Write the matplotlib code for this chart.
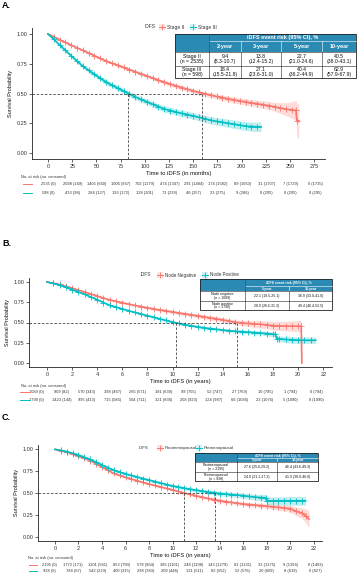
import numpy as np
import matplotlib
matplotlib.use("Agg")
import matplotlib.pyplot as plt
from matplotlib.patches import Rectangle

plt.rcParams['font.family'] = ['Liberation Sans', 'DejaVu Sans']

RED = "#F8766D"
CYAN = "#00BFC4"
HEAD = "#2A8AB4"
W, H = 359, 575

# ---------------- data ----------------
# Panel A (months)
A_groups = ["Stage II", "Stage III"]
A_ticks = [0, 25, 50, 75, 100, 125, 150, 175, 200, 225, 250, 275]
A_t_II = [0, 6, 12, 18, 24, 30, 36, 42, 48, 54, 60, 66, 72, 78, 84, 90, 96, 102, 108, 114,
          120, 126, 132, 138, 144, 150, 156, 162, 168, 174, 180, 186, 192, 198, 204, 210, 216,
          222, 228, 234, 240, 246, 252, 256, 257, 259]
A_s_II = [1.000, 0.977, 0.952, 0.929, 0.906, 0.884, 0.862, 0.840, 0.817, 0.795,
          0.773, 0.755, 0.737, 0.719, 0.701, 0.683, 0.665, 0.648, 0.630, 0.612,
          0.595, 0.580, 0.565, 0.550, 0.536, 0.522, 0.509, 0.497, 0.486, 0.475,
          0.465, 0.455, 0.446, 0.437, 0.429, 0.421, 0.414, 0.406, 0.398, 0.388,
          0.378, 0.368, 0.362, 0.358, 0.272, 0.270]
A_ci_II = [0.000, 0.004, 0.006, 0.007, 0.008, 0.008, 0.009, 0.009, 0.010, 0.010,
           0.011, 0.011, 0.012, 0.012, 0.013, 0.013, 0.014, 0.014, 0.015, 0.015,
           0.016, 0.016, 0.017, 0.017, 0.018, 0.018, 0.019, 0.020, 0.021, 0.022,
           0.023, 0.024, 0.025, 0.026, 0.027, 0.028, 0.030, 0.032, 0.034, 0.038,
           0.045, 0.055, 0.070, 0.085, 0.140, 0.145]
A_t_III = [0, 6, 12, 18, 24, 30, 36, 42, 48, 54, 60, 66, 72, 78, 84, 90, 96, 102, 108, 114,
           120, 126, 132, 138, 144, 150, 156, 162, 168, 174, 180, 186, 192, 198, 204, 210,
           216, 220]
A_s_III = [1.000, 0.955, 0.908, 0.862, 0.816, 0.772, 0.729, 0.694, 0.660, 0.628,
           0.596, 0.570, 0.545, 0.520, 0.496, 0.472, 0.450, 0.430, 0.410, 0.390,
           0.371, 0.357, 0.345, 0.333, 0.323, 0.312, 0.300, 0.288, 0.275, 0.266,
           0.258, 0.250, 0.242, 0.234, 0.226, 0.222, 0.220, 0.220]
A_ci_III = [0.000, 0.008, 0.011, 0.013, 0.015, 0.016, 0.017, 0.018, 0.019, 0.020,
            0.021, 0.021, 0.022, 0.022, 0.023, 0.023, 0.024, 0.024, 0.025, 0.025,
            0.026, 0.026, 0.027, 0.027, 0.028, 0.028, 0.029, 0.030, 0.031, 0.032,
            0.033, 0.034, 0.035, 0.036, 0.037, 0.038, 0.040, 0.040]
A_medians = [159.0, 82.6]
A_risk_II = ["2535 (0)", "2098 (169)", "1405 (660)", "1006 (967)", "702 (1179)", "474 (1347)",
             "291 (1484)", "174 (1582)", "89 (1650)", "31 (1707)", "7 (1729)", "0 (1735)"]
A_risk_III = ["598 (0)", "433 (98)", "284 (127)", "193 (172)", "128 (201)", "72 (239)",
              "46 (257)", "23 (275)", "9 (286)", "0 (295)", "0 (295)", "0 (295)"]
A_tab_cols = ["2-year", "3-year", "5-year", "10-year"]
A_tab_rows = [["Stage II\n(n = 2535)", "9.4\n(8.3-10.7)", "13.8\n(12.4-15.2)", "22.7\n(21.0-24.6)", "40.5\n(38.0-43.1)"],
              ["Stage III\n(n = 598)", "18.4\n(15.5-21.8)", "27.1\n(23.6-31.0)", "40.4\n(36.2-44.9)", "62.9\n(57.9-67.9)"]]

# Panel B (years)
B_groups = ["Node Negative", "Node Positive"]
B_ticks = [0, 2, 4, 6, 8, 10, 12, 14, 16, 18, 20, 22]
B_t_neg = [0, 0.5, 1, 1.5, 2, 2.5, 3, 3.5, 4, 4.5, 5, 5.5, 6, 6.5, 7, 7.5, 8, 8.5, 9, 9.5,
           10, 10.5, 11, 11.5, 12, 12.5, 13, 13.5, 14, 14.5, 15, 15.5, 16, 16.5, 17, 17.5,
           18, 18.5, 19, 19.5, 20, 20.25, 20.3]
B_s_neg = [1.000, 0.987, 0.970, 0.948, 0.925, 0.901, 0.877, 0.852, 0.828, 0.803,
           0.779, 0.762, 0.745, 0.728, 0.712, 0.697, 0.682, 0.668, 0.655, 0.643,
           0.631, 0.618, 0.606, 0.594, 0.582, 0.570, 0.557, 0.545, 0.532, 0.518,
           0.503, 0.495, 0.488, 0.483, 0.478, 0.470, 0.462, 0.458, 0.455, 0.455,
           0.455, 0.455, 0.000]
B_ci_neg = [0.000, 0.004, 0.006, 0.007, 0.008, 0.009, 0.010, 0.011, 0.011, 0.012,
            0.013, 0.013, 0.014, 0.015, 0.015, 0.016, 0.017, 0.017, 0.018, 0.019,
            0.020, 0.021, 0.022, 0.023, 0.024, 0.025, 0.026, 0.027, 0.028, 0.029,
            0.030, 0.033, 0.036, 0.040, 0.044, 0.048, 0.052, 0.056, 0.060, 0.065,
            0.070, 0.070, 0.000]
B_t_pos = [0, 0.5, 1, 1.5, 2, 2.5, 3, 3.5, 4, 4.5, 5, 5.5, 6, 6.5, 7, 7.5, 8, 8.5, 9, 9.5,
           10, 10.5, 11, 11.5, 12, 12.5, 13, 13.5, 14, 14.5, 15, 15.5, 16, 16.5, 17, 17.5,
           18, 18.2, 18.3, 18.5, 19, 19.5, 20, 20.5, 21, 21.4]
B_s_pos = [1.000, 0.983, 0.962, 0.935, 0.905, 0.877, 0.848, 0.815, 0.782, 0.747,
           0.711, 0.690, 0.668, 0.646, 0.625, 0.605, 0.585, 0.565, 0.545, 0.525,
           0.506, 0.489, 0.472, 0.459, 0.446, 0.435, 0.425, 0.416, 0.407, 0.399,
           0.392, 0.386, 0.381, 0.375, 0.370, 0.363, 0.355,
           0.352, 0.300, 0.298, 0.290, 0.285, 0.282, 0.280, 0.280, 0.280]
B_ci_pos = [0.000, 0.004, 0.005, 0.006, 0.007, 0.008, 0.008, 0.009, 0.010, 0.010,
            0.011, 0.011, 0.011, 0.012, 0.012, 0.012, 0.013, 0.013, 0.013, 0.014,
            0.014, 0.015, 0.015, 0.016, 0.016, 0.017, 0.017, 0.018, 0.018, 0.019,
            0.020, 0.021, 0.022, 0.024, 0.026, 0.028, 0.030,
            0.032, 0.035, 0.036, 0.038, 0.040, 0.040, 0.040, 0.040, 0.040]
B_medians = [15.1, 10.3]
B_risk_neg = ["1089 (0)", "909 (82)", "570 (343)", "398 (467)", "265 (571)", "181 (639)",
              "99 (705)", "52 (747)", "27 (769)", "10 (785)", "1 (794)", "0 (794)"]
B_risk_pos = ["1790 (0)", "1423 (144)", "995 (413)", "715 (586)", "504 (711)", "321 (836)",
              "208 (923)", "124 (987)", "66 (1036)", "23 (1076)", "5 (1090)", "0 (1090)"]
B_tab_cols = ["5-year", "10-year"]
B_tab_rows = [["Node negative\n(n = 1089)", "22.1 (19.5-25.1)", "36.9 (33.0-41.0)"],
              ["Node positive\n(n = 1790)", "28.9 (26.6-31.3)", "49.4 (46.4-52.5)"]]

# Panel C (years)
C_groups = ["Postmenopausal", "Premenopausal"]
C_ticks = [0, 2, 4, 6, 8, 10, 12, 14, 16, 18, 20, 22]
C_t_post = [0, 0.5, 1, 1.5, 2, 2.5, 3, 3.5, 4, 4.5, 5, 5.5, 6, 6.5, 7, 7.5, 8, 8.5, 9, 9.5,
            10, 10.5, 11, 11.5, 12, 12.5, 13, 13.5, 14, 14.5, 15, 15.5, 16, 16.5, 17, 17.5,
            18, 18.5, 19, 19.5, 20, 20.5, 21, 21.3, 21.6]
C_s_post = [1.000, 0.985, 0.968, 0.945, 0.920, 0.896, 0.870, 0.834, 0.797, 0.760,
            0.724, 0.702, 0.680, 0.660, 0.640, 0.621, 0.603, 0.586, 0.569, 0.552,
            0.536, 0.518, 0.500, 0.484, 0.468, 0.453, 0.438, 0.425, 0.412, 0.402,
            0.392, 0.383, 0.375, 0.368, 0.362, 0.356, 0.350, 0.342, 0.335, 0.328,
            0.320, 0.290, 0.270, 0.240, 0.200]
C_ci_post = [0.000, 0.004, 0.005, 0.006, 0.007, 0.008, 0.008, 0.009, 0.009, 0.010,
             0.010, 0.011, 0.011, 0.011, 0.012, 0.012, 0.012, 0.013, 0.013, 0.013,
             0.014, 0.014, 0.015, 0.015, 0.016, 0.016, 0.017, 0.017, 0.018, 0.019,
             0.020, 0.021, 0.022, 0.023, 0.024, 0.026, 0.028, 0.030, 0.032, 0.035,
             0.040, 0.050, 0.060, 0.080, 0.100]
C_t_pre = [0, 0.5, 1, 1.5, 2, 2.5, 3, 3.5, 4, 4.5, 5, 5.5, 6, 6.5, 7, 7.5, 8, 8.5, 9, 9.5,
           10, 10.5, 11, 11.5, 12, 12.5, 13, 13.5, 14, 14.5, 15, 15.5, 16, 16.5, 17, 17.5,
           17.9, 18.0, 18.5, 19, 19.5, 20, 20.5, 21, 21.3]
C_s_pre = [1.000, 0.988, 0.975, 0.956, 0.935, 0.911, 0.885, 0.854, 0.822, 0.791,
           0.760, 0.740, 0.720, 0.701, 0.683, 0.665, 0.648, 0.631, 0.614, 0.597,
           0.581, 0.568, 0.555, 0.543, 0.532, 0.522, 0.512, 0.503, 0.494, 0.488,
           0.482, 0.476, 0.470, 0.461, 0.452, 0.448,
           0.445, 0.410, 0.410, 0.410, 0.410, 0.410, 0.410, 0.410, 0.410]
C_ci_pre = [0.000, 0.005, 0.006, 0.007, 0.008, 0.009, 0.010, 0.011, 0.012, 0.013,
            0.014, 0.014, 0.015, 0.015, 0.016, 0.016, 0.017, 0.017, 0.018, 0.018,
            0.019, 0.020, 0.020, 0.021, 0.022, 0.022, 0.023, 0.024, 0.025, 0.026,
            0.027, 0.028, 0.030, 0.032, 0.034, 0.036,
            0.038, 0.045, 0.046, 0.047, 0.048, 0.049, 0.050, 0.050, 0.050]
C_medians = [11.0, 13.6]
C_risk_post = ["2195 (0)", "1772 (171)", "1201 (561)", "853 (790)", "579 (964)", "385 (1101)",
               "248 (1198)", "143 (1279)", "81 (1331)", "33 (1375)", "9 (1396)", "0 (1403)"]
C_risk_pre = ["938 (0)", "784 (67)", "542 (229)", "400 (315)", "298 (383)", "209 (446)",
              "131 (511)", "82 (552)", "52 (576)", "20 (609)", "8 (619)", "0 (627)"]
C_tab_cols = ["5-year", "10-year"]
C_tab_rows = [["Postmenopausal\n(n = 2195)", "27.6 (25.6-29.2)", "46.4 (43.6-49.3)"],
              ["Premenopausal\n(n = 938)", "24.0 (21.1-27.2)", "41.9 (38.0-46.0)"]]

# ---------------- figure ----------------
fig = plt.figure(figsize=(W / 100, H / 100), dpi=100)
fig.patch.set_facecolor("white")
TXT = "#333333"


def px_axes(left, right, top, bottom, **kw):
    return fig.add_axes([left / W, 1 - bottom / H, (right - left) / W, (bottom - top) / H], **kw)


def km(ax, t, s, ci, color):
    t = np.asarray(t, float)
    s = np.asarray(s, float)
    ci = np.asarray(ci, float)
    ax.fill_between(t, s - ci, s + ci, color=color, alpha=0.25, lw=0)
    ax.plot(t, s, color=color, lw=1.2)
    ax.plot(t[1:-1], s[1:-1], ls='none', marker='+', ms=4.2, mew=0.6, color=color)


def style(ax, ticks, xlim, xlabel):
    ax.set_xlim(*xlim)
    ax.set_ylim(-0.05, 1.05)
    ax.set_xticks(ticks)
    ax.set_yticks([0, 0.25, 0.5, 0.75, 1.0])
    ax.set_yticklabels(["0.00", "0.25", "0.50", "0.75", "1.00"])
    for sp in ["top", "right"]:
        ax.spines[sp].set_visible(False)
    for sp in ["left", "bottom"]:
        ax.spines[sp].set_linewidth(0.6)
        ax.spines[sp].set_color("#222222")
    ax.tick_params(labelsize=4.0, length=2, width=0.5, pad=1.5, colors="#222222", labelcolor=TXT)
    ax.set_xlabel(xlabel, fontsize=4.2, labelpad=1.5, color="#111111")
    ax.set_ylabel("Survival Probability", fontsize=4.0, labelpad=2, color="#111111")
    ax.patch.set_alpha(0)


def medians(ax, meds):
    for m in meds:
        ax.plot([m, m], [-0.05, 0.5], ls=(0, (3, 2)), color="#444444", lw=0.6)
    ax.plot([ax.get_xlim()[0], max(meds)], [0.5, 0.5], ls=(0, (3, 2)), color="#444444", lw=0.6)


ov = fig.add_axes([0, 0, 1, 1], zorder=10)
ov.set_xlim(0, W)
ov.set_ylim(H, 0)
ov.axis("off")


def legend(xt, y, items, fs):
    ov.text(xt, y, "iDFS", fontsize=fs, ha="center", va="center", color=TXT)
    for xc, label, color in items:
        ov.add_patch(Rectangle((xc - 3, y - 3), 6, 6, fc=color, alpha=0.2, ec="none"))
        ov.plot([xc - 3.2, xc + 3.2], [y, y], color=color, lw=0.7)
        ov.plot([xc], [y], marker="|", ms=4.5, mew=0.6, color=color)
        ov.text(xc + 5, y, label, fontsize=fs, va="center", color=TXT)


def table(xs, ys, cols, rows, fs_h, fs_c):
    ov.add_patch(Rectangle((xs[0], ys[0]), xs[-1] - xs[0], ys[2] - ys[0], fc=HEAD, ec="none"))
    ov.text((xs[1] + xs[-1]) / 2, (ys[0] + ys[1]) / 2 + 0.3, "iDFS event risk (95% CI), %",
            fontsize=fs_h, color="white", fontweight="bold", ha="center", va="center")
    ov.plot([xs[1], xs[-1]], [ys[1], ys[1]], color="white", lw=0.4)
    for j, c in enumerate(cols):
        ov.text((xs[j + 1] + xs[j + 2]) / 2, (ys[1] + ys[2]) / 2 + 0.3, c, fontsize=fs_h,
                color="white", fontweight="bold", ha="center", va="center")
    for j in range(2, len(xs) - 1):
        ov.plot([xs[j], xs[j]], [ys[1], ys[2]], color="white", lw=0.4)
    ov.plot([xs[1], xs[1]], [ys[0], ys[2]], color="#1d5f7c", lw=0.5)
    for i, row in enumerate(rows):
        y0, y1 = ys[2 + i], ys[3 + i]
        ov.add_patch(Rectangle((xs[0], y0), xs[-1] - xs[0], y1 - y0, fc="white", ec="none"))
        for j, cell in enumerate(row):
            ov.text((xs[j] + xs[j + 1]) / 2, (y0 + y1) / 2 + 0.3, cell, fontsize=fs_c,
                    ha="center", va="center", color="#111111", linespacing=0.95)
    for y in ys[2:-1]:
        ov.plot([xs[0], xs[-1]], [y, y], color="#222222", lw=0.4)
    for x in xs[1:-1]:
        ov.plot([x, x], [ys[2], ys[-1]], color="#222222", lw=0.4)
    ov.add_patch(Rectangle((xs[0], ys[0]), xs[-1] - xs[0], ys[-1] - ys[0], fc="none",
                           ec="#222222", lw=0.6))


def risk(first, last, tick_max, ticks, yh, y1, y2, xl, xline, r1, r2):
    ra = px_axes(first, last, 0, H)
    ra.set_xlim(0, tick_max)
    ra.set_ylim(H, 0)
    ra.axis("off")
    ov.text(xl, yh, "No. at risk (no. censored)", fontsize=2.9, va="center", color=TXT)
    ov.plot(xline, [y1, y1], color=RED, lw=0.7)
    ov.plot(xline, [y2, y2], color=CYAN, lw=0.7)
    for tk, a, b in zip(ticks, r1, r2):
        ra.text(tk, y1, a, fontsize=2.9, ha="center", va="center", color=TXT)
        ra.text(tk, y2, b, fontsize=2.9, ha="center", va="center", color=TXT)


# ---- Panel A ----
axA = px_axes(32, 325, 28, 159)
km(axA, A_t_II, A_s_II, A_ci_II, RED)
km(axA, A_t_III, A_s_III, A_ci_III, CYAN)
style(axA, A_ticks, (-16.5, 286), "Time to iDFS (in months)")
medians(axA, A_medians)
fig.text(2 / W, 1 - 6 / H, "A.", fontsize=6.5, fontweight="bold", va="center")
legend(150, 27, [(162, A_groups[0], RED), (193, A_groups[1], CYAN)], 3.6)
table([175, 209, 241, 281, 322, 356], [34.3, 40.7, 52, 65.5, 78.3], A_tab_cols, A_tab_rows, 4.0, 3.7)
risk(48, 315, 275, A_ticks, 177, 184, 193, 21, [23, 32], A_risk_II, A_risk_III)

# ---- Panel B ----
axB = px_axes(29, 332, 278, 367)
km(axB, B_t_neg, B_s_neg, B_ci_neg, RED)
km(axB, B_t_pos, B_s_pos, B_ci_pos, CYAN)
style(axB, B_ticks, (-1.43, 22.7), "Time to iDFS (in years)")
medians(axB, B_medians)
fig.text(2 / W, 1 - 243 / H, "B.", fontsize=6.5, fontweight="bold", va="center")
legend(146, 275, [(160, B_groups[0], RED), (205, B_groups[1], CYAN)], 3.3)
table([200, 245, 289, 332], [279, 286, 291, 300.5, 310], B_tab_cols, B_tab_rows, 2.5, 2.5)
risk(36, 316, 22, B_ticks, 386, 392, 400, 21, [20, 30], B_risk_neg, B_risk_pos)

# ---- Panel C ----
axC = px_axes(38, 322, 445, 541)
km(axC, C_t_post, C_s_post, C_ci_post, RED)
km(axC, C_t_pre, C_s_pre, C_ci_pre, CYAN)
style(axC, C_ticks, (-1.44, 22.7), "Time to iDFS (in years)")
medians(axC, C_medians)
fig.text(2 / W, 1 - 417 / H, "C.", fontsize=6.5, fontweight="bold", va="center")
legend(144, 448, [(160, C_groups[0], RED), (199, C_groups[1], CYAN)], 3.2)
table([195, 237, 277, 318], [453, 457.5, 462, 472, 481], C_tab_cols, C_tab_rows, 2.5, 2.5)
risk(49, 315, 22, C_ticks, 558, 565, 571, 28, [29, 37], C_risk_post, C_risk_pre)

fig.savefig("out.png", dpi=100, facecolor="white")
